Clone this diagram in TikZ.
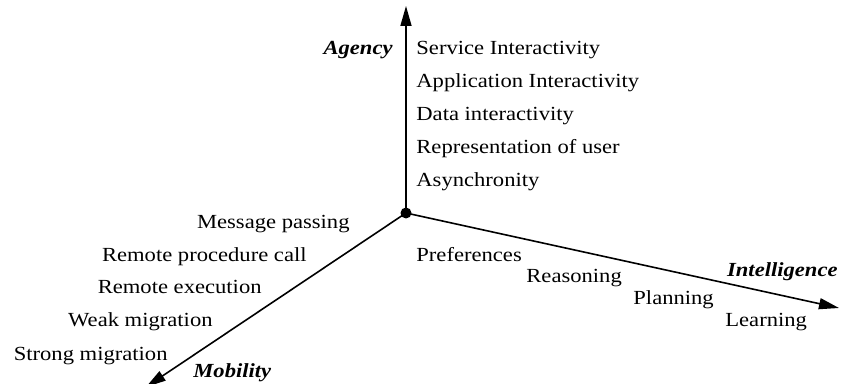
\documentclass[tikz,border=0pt]{standalone}
\usepackage{fontspec}
\setmainfont{Liberation Serif}[FakeStretch=1.13]
\usetikzlibrary{positioning,arrows.meta}

\begin{document}
\begin{tikzpicture}[
        x=0.5pt, y=-0.5pt,
        node distance=7pt,
    ]

    \tikzstyle{item} = [inner sep=0pt, text height=7pt, text depth=2pt]
    \tikzstyle{axislabel} = [item, font=\bfseries\itshape]
    \tikzstyle{axis} = [-{Triangle[length=10pt, width=5.5pt]}, line width=0.8pt]
    \tikzstyle{dot} = [circle, fill=black, inner sep=0pt, minimum size=5.5pt]

    \useasboundingbox (0,0) rectangle (842,384);

    % Origin and axis ends
    \node[dot] (origin) at (406,213) {};
    \coordinate (agencytip) at (406,6);
    \coordinate (inteltip) at (839,308);
    \coordinate (mobtip) at (146,387);

    % Axes
    \draw[axis] (origin.center) -- (agencytip);
    \draw[axis] (origin.center) -- (inteltip);
    \draw[axis] (origin.center) -- (mobtip);

    % Agency
    \node[axislabel, anchor=base east] (agency) at (393,55) {Agency};
    \node[item, anchor=base west] (service) at (416,55) {Service Interactivity};
    \node[item, below=of service.south west, anchor=north west] (application) {Application Interactivity};
    \node[item, below=of application.south west, anchor=north west] (data) {Data interactivity};
    \node[item, below=of data.south west, anchor=north west] (represent) {Representation of user};
    \node[item, below=of represent.south west, anchor=north west] (async) {Asynchronity};

    % Mobility
    \node[item, anchor=base east] (message) at (350,229) {Message passing};
    \node[item, anchor=base east] (rpc) at (307,262) {Remote procedure call};
    \node[item, anchor=base east] (rexec) at (262,294) {Remote execution};
    \node[item, anchor=base east] (weak) at (213,327) {Weak migration};
    \node[item, anchor=base east] (strong) at (168,361) {Strong migration};
    \node[axislabel, anchor=base west] (mobility) at (193,378) {Mobility};

    % Intelligence
    \node[item, anchor=base west] (prefs) at (416,262) {Preferences};
    \node[item, anchor=base west] (reasoning) at (526,283) {Reasoning};
    \node[item, anchor=base west] (planning) at (633,305) {Planning};
    \node[item, anchor=base west] (learning) at (725,327) {Learning};
    \node[axislabel, anchor=base east] (intelligence) at (838,277) {Intelligence};

\end{tikzpicture}
\end{document}
